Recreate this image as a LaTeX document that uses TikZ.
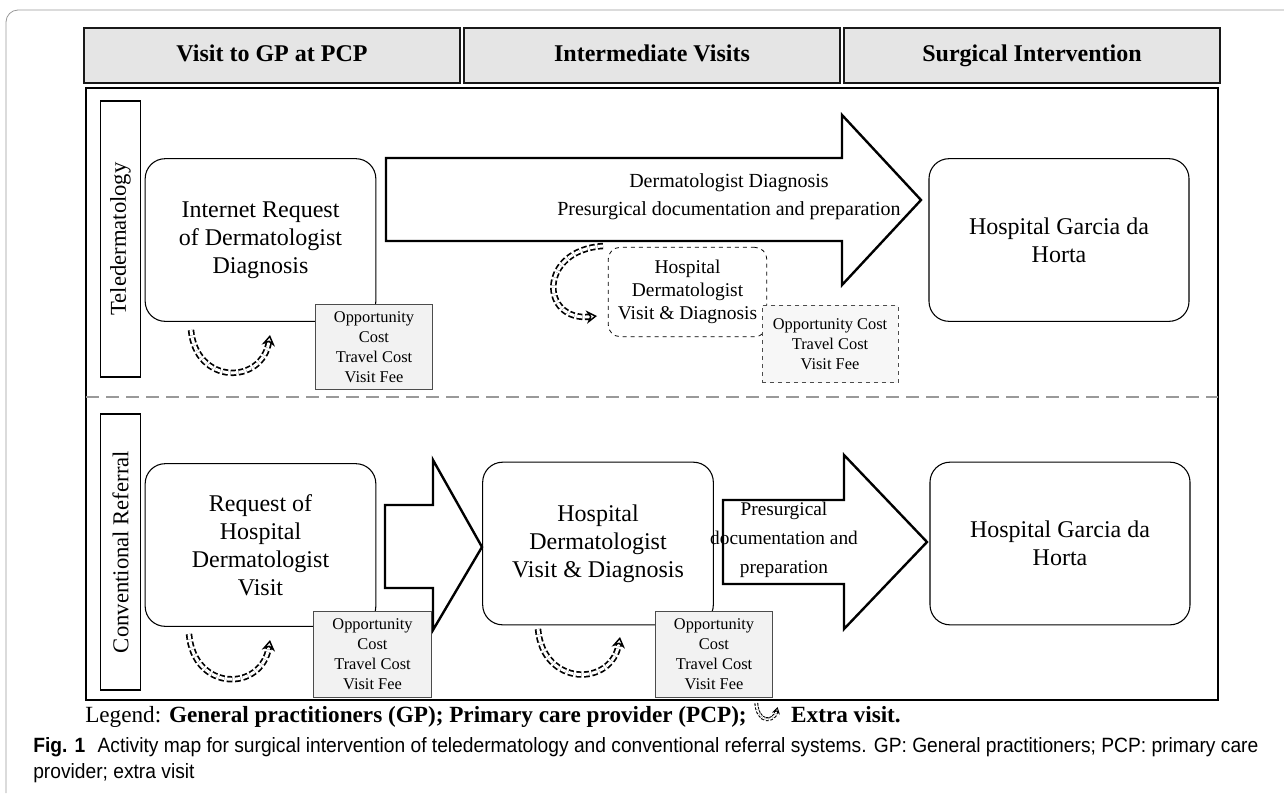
\documentclass[tikz,border=0pt]{standalone}
\usepackage{fontspec}
\setmainfont{Liberation Serif}
\newfontfamily\capfont[FakeStretch=0.93]{Liberation Sans}
\usetikzlibrary{positioning, arrows.meta}

\begin{document}
\begin{tikzpicture}[x=0.75pt, y=-0.75pt,
    header/.style={draw=black!90, line width=1.5pt, fill=black!10, minimum width=282pt, minimum height=41pt, text height=12.5pt, text depth=3.5pt, font=\fontsize{18}{21}\selectfont\bfseries},
    lane/.style={draw, line width=0.8pt, rotate=90, minimum width=207pt, minimum height=30pt, font=\fontsize{17}{20}\selectfont},
    stage/.style={draw, line width=0.8pt, rounded corners=15pt, align=center, minimum width=173pt, minimum height=122pt, font=\fontsize{18}{21}\selectfont},
    cost/.style={draw=black!70, line width=0.6pt, fill=black!5, align=center, font=\fontsize{12.3}{15}\selectfont, minimum width=88pt, minimum height=64pt, inner sep=1pt},
    bigarrow/.style={draw, line width=1.8pt, fill=white, line join=miter},
    extra/.style={dash pattern=on 4pt off 2pt, double, double distance=2.2pt, line width=1.3pt, -{Stealth[open, length=8pt, width=10pt, line width=1.1pt]}}
  ]
  \useasboundingbox (0,0) rectangle (1284,793);
  % page frame
  \draw[black!40, line width=0.6pt, rounded corners=9pt] (6,793) -- (6,10) -- (1284,10);

  % column headers
  \node[header] (gp) at (272,55.5) {Visit to GP at PCP};
  \node[header] (mid) at (652,55.5) {Intermediate Visits};
  \node[header] (surg) at (1032,55.5) {Surgical Intervention};
  \draw[line width=2pt] (86,88) rectangle (1218,700);

  % teledermatology lane
  \node[lane] (tele) at (120.5,239) {Teledermatology};
  \node[stage] (inreq) at (260.5,240) {Internet Request\\of Dermatologist\\Diagnosis};
  \draw[bigarrow] (386,158) -- (842,158) -- (842,115) -- (921,200) -- (842,285) -- (842,241) -- (386,241) -- cycle;
  \node[align=center, font=\fontsize{15}{21}\selectfont] (tdiag) at (729,197) {Dermatologist Diagnosis\\Presurgical documentation and preparation};
  \node[stage, minimum width=195pt] (hgh1) at (1059,240) {Hospital Garcia da\\Horta};
  \node[cost] (cost1) at (374,347) {Opportunity\\Cost\\Travel Cost\\Visit Fee};
  \draw[extra] (191,330) .. controls (196,385) and (262,385) .. (270,335);
  \node[stage, dashed, line width=0.6pt, rounded corners=9pt, minimum width=119pt, minimum height=67pt, font=\fontsize{14.6}{17}\selectfont] (hdv1) at (687.5,292) {Hospital\\Dermatologist\\Visit \& Diagnosis};
  \node[cost, dashed, fill=black!3, minimum width=102pt, minimum height=58pt] (cost2) at (830,344) {Opportunity Cost\\Travel Cost\\Visit Fee};
  \draw[extra] (603,246) .. controls (538,250) and (540,322) .. (597,316);

  \draw[black!40, line width=1.5pt, dash pattern=on 10pt off 5pt] (86,397) -- (1218,397);

  % conventional referral lane
  \node[lane] (conv) at (120.5,552) {Conventional Referral};
  \node[stage] (hreq) at (260.5,545) {Request of\\Hospital\\Dermatologist\\Visit};
  \draw[bigarrow] (385,505) -- (433,505) -- (433,460) -- (482,547) -- (433,630) -- (433,588) -- (385,588) -- cycle;
  \node[stage] (hdv2) at (598,543.5) {Hospital\\Dermatologist\\Visit \& Diagnosis};
  \draw[bigarrow] (723,500) -- (844,500) -- (844,455) -- (927,542) -- (844,629) -- (844,584) -- (723,584) -- cycle;
  \node[align=center, font=\fontsize{14.5}{22}\selectfont] (pdoc) at (784,540) {Presurgical\\documentation and\\preparation};
  \node[stage, minimum width=195pt] (hgh2) at (1060,543.5) {Hospital Garcia da\\Horta};
  \node[cost] (cost3) at (372.5,654.5) {Opportunity\\Cost\\Travel Cost\\Visit Fee};
  \node[cost] (cost4) at (714,654.5) {Opportunity\\Cost\\Travel Cost\\Visit Fee};
  \draw[extra] (189,634) .. controls (194,692) and (262,692) .. (270,640);
  \draw[extra] (538,629) .. controls (543,687) and (612,687) .. (620,637);

  % legend and caption
  \node[anchor=base west, inner sep=0, font=\fontsize{17.4}{20}\selectfont] (leg) at (85,722) {Legend: \textbf{General practitioners (GP); Primary care provider (PCP);}};
  \draw[dash pattern=on 2pt off 1pt, double, double distance=1.3pt, line width=0.8pt, -{Stealth[open, length=5pt, width=6pt, line width=0.7pt]}] ([xshift=7pt, yshift=10pt]leg.east) .. controls ([xshift=8pt, yshift=-5pt]leg.east) and ([xshift=20pt, yshift=-5pt]leg.east) .. ([xshift=23pt, yshift=7pt]leg.east);
  \node[anchor=base west, inner sep=0, font=\fontsize{17.4}{20}\selectfont\bfseries] (legx) at ([xshift=33pt]leg.base east) {Extra visit.};
  \node[anchor=base west, inner sep=0, align=left, font=\capfont\fontsize{15.5}{19.5}\selectfont] (cap) at (33,778) {\textbf{Fig. 1}\hspace{0.6em}Activity map for surgical intervention of teledermatology and conventional referral systems. GP: General practitioners; PCP: primary care\\provider; extra visit};
\end{tikzpicture}
\end{document}
